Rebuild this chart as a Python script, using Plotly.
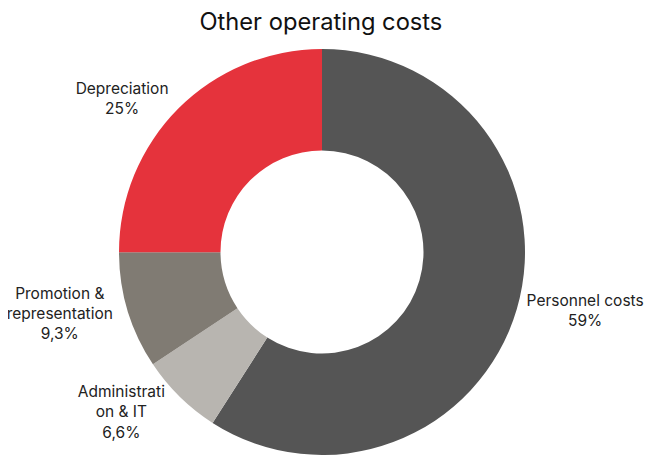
import plotly.graph_objects as go

categories = ["Personnel costs", "Administrati<br>on & IT", "Promotion &<br>representation", "Depreciation"]
values = [59, 6.6, 9.3, 25]
colors = ["#555555", "#b8b5b0", "#807b73", "#e5333c"]

fig = go.Figure(go.Pie(
    labels=categories,
    values=values,
    hole=0.5,
    sort=False,
    direction="clockwise",
    rotation=0,
    automargin=False,
    marker=dict(colors=colors, line=dict(width=0)),
    textposition="outside",
    texttemplate="%{label}<br>%{value}%",
    textfont=dict(family="Inter", size=15.5, color="#222222"),
    showlegend=False,
))

fig.update_layout(
    width=656, height=463,
    separators=", ",
    title=dict(text="Other operating costs", x=0.477, xanchor="center", y=0.970, yanchor="middle",
               font=dict(family="Inter", size=23.7, color="#111111")),
    margin=dict(l=0, r=28, t=41, b=16, autoexpand=False),
    paper_bgcolor="white",
    plot_bgcolor="white",
)

fig.write_html("out.html")
